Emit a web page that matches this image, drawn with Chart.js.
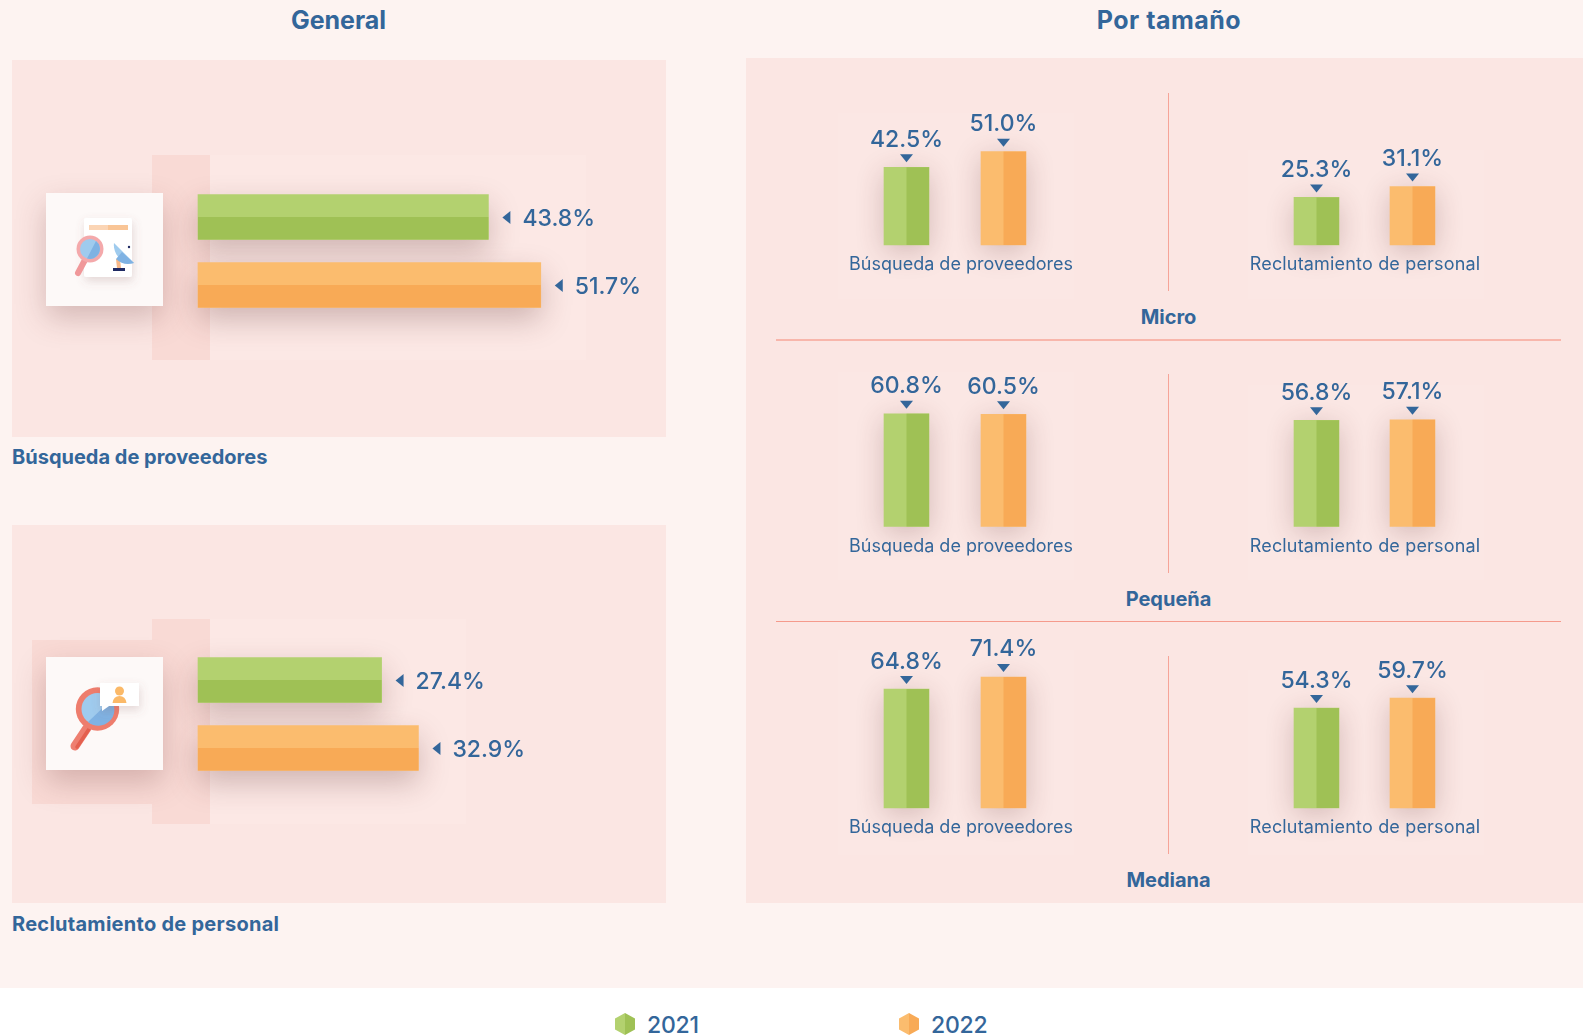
<!DOCTYPE html>
<html lang="es">
<head>
<meta charset="utf-8">
<title>Búsqueda de proveedores y reclutamiento de personal</title>
<script src="https://cdn.jsdelivr.net/npm/chart.js@4"></script>
<style>
html,body{margin:0;padding:0;background:#fff}
#page{position:relative;width:1583px;height:1035px;overflow:hidden;background:#fff;font-family:Inter,sans-serif;color:#33669a}
.abs{position:absolute}
.txt{position:absolute;white-space:nowrap;line-height:1}
.b{font-weight:700}
canvas{position:absolute}
</style>
</head>
<body>
<div id="page">
  <div class="abs" style="left:0;top:0;width:1583px;height:988px;background:#fdf3f1"></div>
  <div class="abs" style="left:12px;top:60px;width:654px;height:377px;background:#fbe6e3"></div>
  <div class="abs" style="left:12px;top:525px;width:654px;height:378px;background:#fbe6e3"></div>
  <div class="abs" style="left:746px;top:58px;width:837px;height:845px;background:#fbe6e3"></div>

  <div class="abs" style="left:210px;top:155px;width:376px;height:205px;background:#fce8e5"></div>
  <div class="abs" style="left:152px;top:155px;width:58px;height:205px;background:#f9dad5"></div>
  <div class="abs" style="left:210px;top:619px;width:256px;height:205px;background:#fce8e5"></div>
  <div class="abs" style="left:152px;top:619px;width:58px;height:205px;background:#f9dad5"></div>
  <div class="abs" style="left:32px;top:640px;width:120px;height:164px;background:#f9dad5"></div>

  <div class="abs" style="left:838px;top:113px;width:236px;height:186px;background:#fbe7e4"></div>
  <div class="abs" style="left:1248px;top:150px;width:236px;height:149px;background:#fbe7e4"></div>
  <div class="abs" style="left:838px;top:372px;width:236px;height:208px;background:#fbe7e4"></div>
  <div class="abs" style="left:1248px;top:385px;width:236px;height:195px;background:#fbe7e4"></div>
  <div class="abs" style="left:838px;top:650px;width:236px;height:205px;background:#fbe7e4"></div>
  <div class="abs" style="left:1248px;top:670px;width:236px;height:185px;background:#fbe7e4"></div>

  <div class="abs" style="left:1168px;top:93px;width:1px;height:198px;background:#f6a498"></div>
  <div class="abs" style="left:1168px;top:374px;width:1px;height:199px;background:#f6a498"></div>
  <div class="abs" style="left:1168px;top:656px;width:1px;height:198px;background:#f6a498"></div>
  <div class="abs" style="left:776px;top:339px;width:785px;height:2px;background:#f8b6ab"></div>
  <div class="abs" style="left:776px;top:621px;width:785px;height:1px;background:#f59a8c"></div>

  <!-- icon cards -->
  <div class="abs" style="left:46px;top:193px;width:117px;height:113px;background:#fdf9f8;box-shadow:0 12px 28px rgba(110,55,55,.26)"></div>
  <div class="abs" style="left:46px;top:657px;width:117px;height:113px;background:#fdf9f8;box-shadow:0 12px 28px rgba(110,55,55,.26)"></div>
  <svg class="abs" style="left:46px;top:193px;overflow:visible" width="117" height="113" viewBox="46 193 117 113">
    <defs><filter id="s" x="-40%" y="-40%" width="180%" height="180%"><feDropShadow dx="1" dy="4" stdDeviation="5" flood-color="#8a5a5a" flood-opacity=".22"/></filter></defs>
    <rect x="84" y="218" width="48" height="59" rx="2" fill="#fff" filter="url(#s)"/>
    <rect x="89" y="225" width="19" height="5" fill="#fbd5b5"/><rect x="108" y="225" width="20" height="5" fill="#f9c596"/>
    <path d="M86 258 L78 273" stroke="#f0989a" stroke-width="6" stroke-linecap="round"/>
    <circle cx="90" cy="249" r="13.5" fill="#f4a9ab"/>
    <circle cx="90" cy="249" r="10" fill="#9fcbee"/>
    <path d="M96 241 A10 10 0 0 1 87 258.5 Z" fill="#7fb2e3"/>
    <path d="M113 271 h12 v-3 h-12 Z" fill="#1f2a63"/>
    <path d="M116 259 l1 9 h4 l-1 -9 Z" fill="#f7b98a"/>
    <path d="M114 243 A18 18 0 0 0 134 263 Z" fill="#9fcbee"/>
    <path d="M122 252 L134 263 A18 18 0 0 1 116 259 Z" fill="#7fb2e3"/>
    <circle cx="129" cy="247" r="1.200" fill="#1f2a63"/>
  </svg>
  <svg class="abs" style="left:46px;top:657px;overflow:visible" width="117" height="113" viewBox="46 657 117 113">
    <path d="M87 728 L75 746" stroke="#ee7f70" stroke-width="9" stroke-linecap="round"/>
    <path d="M87 728 L75 746" stroke="#e4604f" stroke-width="3.500" stroke-linecap="round" transform="translate(2 1)"/>
    <circle cx="97.500" cy="709" r="21.700" fill="#ee7d6d"/>
    <circle cx="97.500" cy="709" r="16" fill="#9fcbee"/>
    <path d="M111 700 A16 16 0 0 1 88 722 Z" fill="#7fb2e3"/>
    <g filter="url(#s)"><path d="M100 683 h39 v23 h-30 l-7 5 v-5 h-2 Z" fill="#fff"/></g>
    <circle cx="119.500" cy="691" r="4.500" fill="#fbb968"/>
    <path d="M112.500 703 q1 -7 7 -7 q6 0 7 7 Z" fill="#fbb968"/>
  </svg>

  <canvas id="gB"></canvas>
  <canvas id="gR"></canvas>
  <canvas id="mB"></canvas>
  <canvas id="mR"></canvas>
  <canvas id="pB"></canvas>
  <canvas id="pR"></canvas>
  <canvas id="lB"></canvas>
  <canvas id="lR"></canvas>

  <div class="txt b" style="left:238.500px;width:200px;text-align:center;top:8px;font-size:25px">General</div>
  <div class="txt b" style="left:1019px;width:300px;text-align:center;top:8px;font-size:25px;letter-spacing:.5px">Por tamaño</div>
  <div class="txt b" style="left:12px;top:447px;font-size:20px">Búsqueda de proveedores</div>
  <div class="txt b" style="left:12px;top:914px;font-size:20px;letter-spacing:.27px">Reclutamiento de personal</div>
  <div class="txt b" style="left:1068.500px;width:200px;text-align:center;top:307px;font-size:20px">Micro</div>
  <div class="txt b" style="left:1068.500px;width:200px;text-align:center;top:589px;font-size:20px">Pequeña</div>
  <div class="txt b" style="left:1068.500px;width:200px;text-align:center;top:870px;font-size:20px">Mediana</div>

  <svg class="abs" style="left:615px;top:1013px" width="20" height="22" viewBox="0 0 20 22"><path d="M10 0 L20 5.500 V16.500 L10 22 Z" fill="#9fc155"/><path d="M10 0 L0 5.500 V16.500 L10 22 Z" fill="#b3d16f"/></svg>
  <div class="txt" style="left:647px;top:1014px;font-size:23px;font-weight:500;letter-spacing:-.2px">2021</div>
  <svg class="abs" style="left:899px;top:1013px" width="20" height="22" viewBox="0 0 20 22"><path d="M10 0 L20 5.500 V16.500 L10 22 Z" fill="#f8aa56"/><path d="M10 0 L0 5.500 V16.500 L10 22 Z" fill="#fbbc6e"/></svg>
  <div class="txt" style="left:931px;top:1014px;font-size:23px;font-weight:500;letter-spacing:-.2px">2022</div>
</div>

<script>
const categories = ['2021', '2022'];
const labelBusqueda = 'Búsqueda de proveedores';
const labelReclutamiento = 'Reclutamiento de personal';

const generalBusqueda = [43.8, 51.7];
const generalReclutamiento = [27.4, 32.9];
const microBusqueda = [42.5, 51.0];
const microReclutamiento = [25.3, 31.1];
const pequenaBusqueda = [60.8, 60.5];
const pequenaReclutamiento = [56.8, 57.1];
const medianaBusqueda = [64.8, 71.4];
const medianaReclutamiento = [54.3, 59.7];

const lightColors = ['#b3d16f', '#fbbc6e'];
const darkColors = ['#9fc155', '#f8aa56'];
const textColor = '#33669a';
const fontFamily = 'Inter, sans-serif';
const valueFont = '500 23px ' + fontFamily;

Chart.defaults.animation = false;
Chart.defaults.font.family = fontFamily;

const barStyle = {
  id: 'barStyle',
  beforeDatasetsDraw(chart, args, o) {
    const c = chart.ctx;
    c.save();
    c.shadowColor = o.shadowColor;
    c.shadowBlur = o.shadowBlur;
    c.shadowOffsetY = o.shadowY;
  },
  afterDatasetsDraw(chart, args, o) {
    const c = chart.ctx;
    c.restore();
    const horizontal = chart.options.indexAxis === 'y';
    chart.getDatasetMeta(0).data.forEach((el, i) => {
      const p = el.getProps(['x', 'y', 'base', 'width', 'height'], true);
      const value = chart.data.datasets[0].data[i];
      c.fillStyle = darkColors[i];
      if (horizontal) {
        c.fillRect(p.base, p.y, p.x - p.base, p.height / 2);
        c.fillStyle = textColor;
        c.beginPath();
        c.moveTo(p.x + 14, p.y + 0.5);
        c.lineTo(p.x + 22, p.y - 6);
        c.lineTo(p.x + 22, p.y + 7);
        c.closePath();
        c.fill();
        c.font = valueFont;
        c.textAlign = 'left';
        c.textBaseline = 'alphabetic';
        c.fillText(value.toFixed(1) + '%', p.x + 34, p.y + 8.5);
      } else {
        c.fillRect(p.x, p.y, p.width / 2, p.base - p.y);
        c.fillStyle = textColor;
        c.beginPath();
        c.moveTo(p.x - 6.5, p.y - 13);
        c.lineTo(p.x + 6.5, p.y - 13);
        c.lineTo(p.x, p.y - 5);
        c.closePath();
        c.fill();
        c.font = valueFont;
        c.textAlign = 'center';
        c.textBaseline = 'alphabetic';
        c.fillText(value.toFixed(1) + '%', p.x, p.y - 20.5);
      }
    });
    if (o.caption) {
      c.save();
      c.fillStyle = textColor;
      c.font = '18px ' + fontFamily;
      c.letterSpacing = o.captionSpacing;
      c.textAlign = 'center';
      c.textBaseline = 'alphabetic';
      c.fillText(o.caption, o.captionX, chart.chartArea.bottom + 25);
      c.restore();
    }
  }
};

function place(id, left, top, width, height) {
  const el = document.getElementById(id);
  el.width = width;
  el.height = height;
  el.style.left = left + 'px';
  el.style.top = top + 'px';
  el.style.width = width + 'px';
  el.style.height = height + 'px';
  return el;
}

function hiddenAxis(extra) {
  return Object.assign({ display: false, grid: { display: false } }, extra);
}

function horizontalChart(id, label, values, plotTop, perUnit) {
  const left = 170, top = plotTop - 60, w = 490, h = 256;
  const plotLeft = 198, axisMax = 60;
  const plotW = perUnit * axisMax;
  new Chart(place(id, left, top, w, h), {
    type: 'bar',
    data: {
      labels: categories,
      datasets: [{ label, data: values, backgroundColor: lightColors, barThickness: 45, borderWidth: 0, clip: false }]
    },
    options: {
      indexAxis: 'y',
      responsive: false,
      layout: { padding: { left: plotLeft - left, top: 60, right: w - (plotLeft - left) - plotW, bottom: h - 60 - 136 } },
      scales: { x: hiddenAxis({ min: 0, max: axisMax }), y: hiddenAxis({}) },
      plugins: {
        legend: { display: false }, tooltip: { enabled: false },
        barStyle: { shadowColor: 'rgba(90,40,40,.27)', shadowBlur: 30, shadowY: 12 }
      }
    },
    plugins: [barStyle]
  });
}

function verticalChart(id, caption, values, plotLeft, plotRight, bottom, perUnit, captionX, captionSpacing) {
  const left = Math.floor(plotLeft) - 38, w = 270, plotH = 135, padTop = 45, padBottom = 52;
  const top = bottom - plotH - padTop;
  new Chart(place(id, left, Math.floor(top), w, plotH + padTop + padBottom), {
    type: 'bar',
    data: {
      labels: categories,
      datasets: [{ label: caption, data: values, backgroundColor: lightColors, barThickness: 45, borderWidth: 0, clip: false }]
    },
    options: {
      responsive: false,
      layout: { padding: { left: plotLeft - left, top: padTop + (top - Math.floor(top)), right: w - (plotRight - left), bottom: padBottom - (top - Math.floor(top)) } },
      scales: { x: hiddenAxis({}), y: hiddenAxis({ min: 0, max: plotH / perUnit }) },
      plugins: {
        legend: { display: false }, tooltip: { enabled: false },
        barStyle: { shadowColor: 'rgba(90,40,40,.24)', shadowBlur: 28, shadowY: 6, caption, captionX: captionX - left, captionSpacing }
      }
    },
    plugins: [barStyle]
  });
}

horizontalChart('gB', labelBusqueda, generalBusqueda, 182.5, 6.63);
horizontalChart('gR', labelReclutamiento, generalReclutamiento, 645.5, 6.7);

verticalChart('mB', labelBusqueda, microBusqueda, 858, 1052, 245, 1.83, 961, '0px');
verticalChart('mR', labelReclutamiento, microReclutamiento, 1268.5, 1460.5, 245, 1.88, 1365, '0.17px');
verticalChart('pB', labelBusqueda, pequenaBusqueda, 858, 1052, 526.5, 1.855, 961, '0px');
verticalChart('pR', labelReclutamiento, pequenaReclutamiento, 1268.5, 1460.5, 526.5, 1.87, 1365, '0.17px');
verticalChart('lB', labelBusqueda, medianaBusqueda, 858, 1052, 808, 1.835, 961, '0px');
verticalChart('lR', labelReclutamiento, medianaReclutamiento, 1268.5, 1460.5, 808, 1.84, 1365, '0.17px');
</script>
</body>
</html>
